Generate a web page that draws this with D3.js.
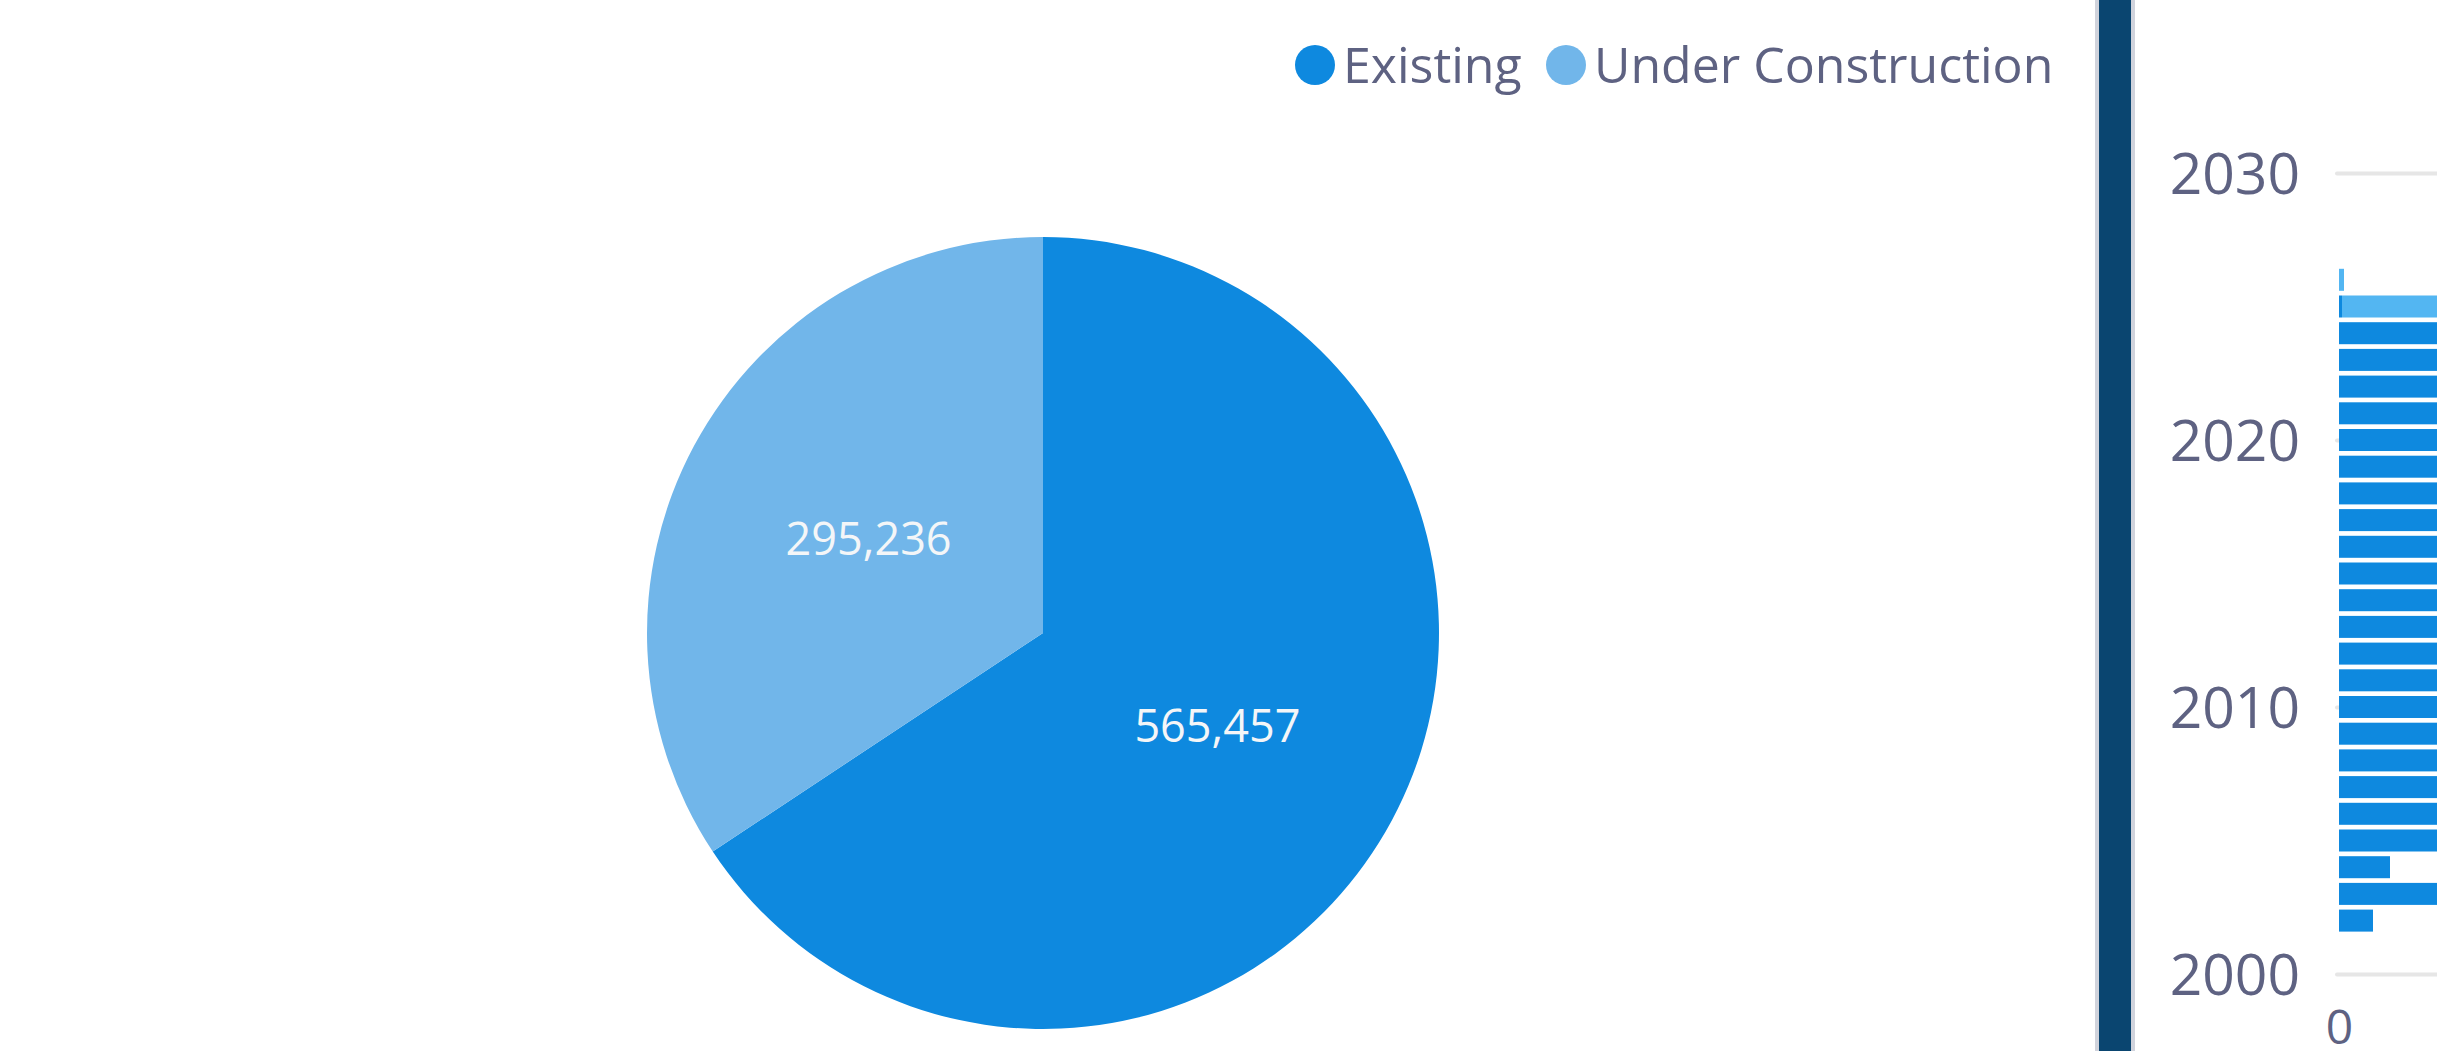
<!DOCTYPE html>
<html>
<head>
<meta charset="utf-8">
<script src="https://cdn.jsdelivr.net/npm/d3@7"></script>
<style>
  body { margin: 0; background: #fff; overflow: hidden; }
  svg { display: block; font-family: "Segoe UI", "Open Sans", sans-serif; }
</style>
</head>
<body>
<div id="chart"></div>
<script>
// pie totals
var statusNames = ["Existing", "Under Construction"];
var statusTotals = [565457, 295236];

// units by year (bars run off the right edge of the page)
var years = [2002, 2003, 2004, 2005, 2006, 2007, 2008, 2009, 2010, 2011, 2012, 2013,
             2014, 2015, 2016, 2017, 2018, 2019, 2020, 2021, 2022, 2023, 2024, 2025, 2026];
var existingByYear = [5000, 16200, 7500, 18400, 21300, 24800, 27100, 22600, 19800, 21500, 24300, 26900,
                      28700, 30400, 31800, 33200, 32500, 30900, 27400, 29800, 31600, 28300, 25017, 440, 0];
var constructionByYear = [0, 0, 0, 0, 0, 0, 0, 0, 0, 0, 0, 0,
                          0, 0, 0, 0, 0, 0, 0, 0, 0, 0, 0, 294501, 735];

var yearTicks = [2000, 2010, 2020, 2030];
var valueTicks = [0];

var width = 2437,
    height = 1051,
    textColor = "#5e6282",
    colors = ["#0e89df", "#71b6ea"],
    barColors = ["#0e89df", "#53b6f2"];

var svg = d3.select("#chart")
  .append("svg")
    .attr("width", width)
    .attr("height", height);

svg.append("rect")
    .attr("width", width)
    .attr("height", height)
    .attr("fill", "#fff");

///////////////////////////////PIE////////////////////////////////////////////
var cx = 1043, cy = 633, radius = 396;

var pie = d3.pie().sort(null).value(function(d){ return d; });
var arc = d3.arc().innerRadius(0).outerRadius(radius);

var pieG = svg.append("g")
    .attr("transform", "translate(" + cx + "," + cy + ")");

var slices = pieG.selectAll(".slice")
    .data(pie(statusTotals))
    .enter().append("g")
    .attr("class", "slice");

slices.append("path")
    .attr("d", arc)
    .attr("fill", function(d, i){ return colors[i]; });

slices.append("text")
    .attr("transform", function(d){ return "translate(" + arc.centroid(d) + ")"; })
    .attr("text-anchor", "middle")
    .attr("dy", "0.35em")
    .attr("fill", "#f4f6f8")
    .style("font-size", "45px")
    .text(function(d){ return d3.format(",")(d.data); });

///////////////////////////////LEGEND/////////////////////////////////////////
var legendX = [1315, 1566];
var legend = svg.selectAll(".legend")
    .data(statusNames)
    .enter().append("g")
    .attr("class", "legend")
    .attr("transform", function(d, i){ return "translate(" + legendX[i] + ",65)"; });

legend.append("circle")
    .attr("r", 20)
    .attr("fill", function(d, i){ return colors[i]; });

legend.append("text")
    .attr("x", 28)
    .attr("y", 18)
    .attr("fill", textColor)
    .style("font-size", "50px")
    .text(function(d){ return d; });

///////////////////////////////DIVIDER////////////////////////////////////////
svg.append("rect")
    .attr("x", 2095).attr("y", 0)
    .attr("width", 40).attr("height", height)
    .attr("fill", "#d0d3dc");
svg.append("rect")
    .attr("x", 2099).attr("y", 0)
    .attr("width", 32).attr("height", height)
    .attr("fill", "#0a4570");

///////////////////////////////BARS///////////////////////////////////////////
var x = d3.scaleLinear()
    .domain([0, 100000])
    .range([2339, 3019]);

var y = d3.scaleLinear()
    .domain([2000, 2030])
    .range([974, 173]);

// gridlines
var grid = svg.append("g")
    .attr("transform", "translate(2337,0)")
    .call(d3.axisRight(y).tickValues(yearTicks).tickSize(width).tickFormat(""));
grid.select(".domain").remove();
grid.selectAll("line")
    .attr("stroke", "#e6e6e6")
    .attr("stroke-width", 4)
    .attr("stroke-linecap", "round");

var gy = svg.append("g")
    .attr("transform", "translate(2300,0)")
    .call(d3.axisLeft(y).tickValues(yearTicks).tickSize(0).tickPadding(0).tickFormat(d3.format("d")));
gy.select(".domain").remove();
gy.selectAll("text")
    .attr("fill", textColor)
    .attr("dy", "0.36em")
    .style("font-size", "57px")
    .style("font-family", "\"Segoe UI\", \"Open Sans\", sans-serif");

var gx = svg.append("g")
    .attr("transform", "translate(0,1010)")
    .call(d3.axisBottom(x).tickValues(valueTicks).tickSize(0).tickPadding(0).tickFormat(d3.format("d")));
gx.select(".domain").remove();
gx.selectAll("text")
    .attr("fill", textColor)
    .attr("dy", "0.71em")
    .style("font-size", "48px")
    .style("font-family", "\"Segoe UI\", \"Open Sans\", sans-serif");

var barH = 22;
var stackData = years.map(function(yr, i){
    return { year: yr, existing: existingByYear[i], construction: constructionByYear[i] };
});
var stack = d3.stack().keys(["existing", "construction"])(stackData);

svg.selectAll(".series")
    .data(stack)
    .enter().append("g")
    .attr("class", "series")
    .attr("fill", function(d, i){ return barColors[i]; })
  .selectAll("rect")
    .data(function(d){ return d.filter(function(p){ return p[1] > p[0]; }); })
    .enter().append("rect")
    .attr("x", function(d){ return x(d[0]); })
    .attr("width", function(d){ return x(d[1]) - x(d[0]); })
    .attr("y", function(d){ return y(d.data.year) - barH / 2; })
    .attr("height", barH);
</script>
</body>
</html>
